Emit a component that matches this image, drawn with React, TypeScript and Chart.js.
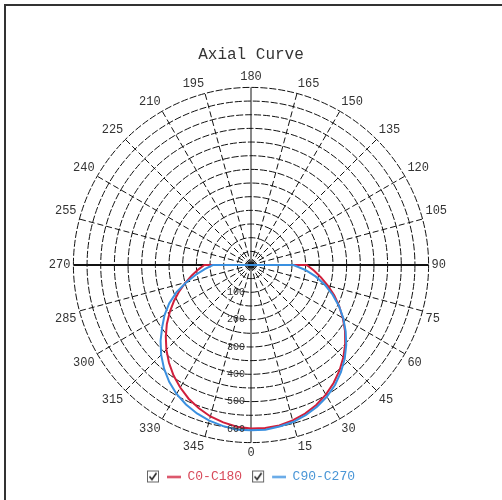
import React, { useEffect, useRef } from "react";
import { Chart, registerables } from "chart.js";

Chart.register(...registerables);

// Angles (degrees) at which the intensity curves are sampled
const ANGLES = [
  0, 5, 10, 15, 20, 25, 30, 35, 40, 45, 50, 55, 60, 65, 70, 75, 80, 85, 90,
  95, 100, 105, 110, 115, 120, 125, 130, 135, 140, 145, 150, 155, 160, 165, 170, 175, 180,
  185, 190, 195, 200, 205, 210, 215, 220, 225, 230, 235, 240, 245, 250, 255, 260, 265,
  270, 275, 280, 285, 290, 295, 300, 305, 310, 315, 320, 325, 330, 335, 340, 345, 350, 355,
];

// C0-C180 plane intensity (cd) at each angle above
const C0_C180 = [
  598, 599, 596, 589, 579, 565, 548, 527, 504, 478, 450, 420, 388, 356, 324, 291, 260, 231, 204,
  0, 0, 0, 0, 0, 0, 0, 0, 0, 0, 0, 0, 0, 0, 0, 0, 0, 0,
  0, 0, 0, 0, 0, 0, 0, 0, 0, 0, 0, 0, 0, 0, 0, 0, 0,
  171, 194, 220, 248, 279, 311, 343, 376, 407, 438, 467, 494, 518, 540, 558, 574, 585, 594,
];

// C90-C270 plane intensity (cd) at each angle above
const C90_C270 = [
  605, 605, 600, 595, 585, 572, 556, 536, 512, 485, 455, 423, 390, 355, 318, 280, 240, 198, 155,
  0, 0, 0, 0, 0, 0, 0, 0, 0, 0, 0, 0, 0, 0, 0, 0, 0, 0,
  0, 0, 0, 0, 0, 0, 0, 0, 0, 0, 0, 0, 0, 0, 0, 0, 0,
  140, 170, 205, 245, 290, 330, 365, 397, 432, 465, 495, 522, 545, 563, 578, 590, 598, 605,
];

const SERIES_NAMES = ["C0-C180", "C90-C270"];
const RADIAL_TICK_LABELS = [100, 200, 300, 400, 500, 600];
const R_MIN = 0;
const R_MAX = 650;
const R_STEP = 50;
const ANGLE_STEP = 5;
const SPOKE_STEP = 15;

const LINE_COLORS = ["#d0203c", "#3a90e0"];
const TEXT_COLORS = ["#d84a5a", "#4a96d6"];

function makeLegendIcon(color: string): HTMLCanvasElement {
  const c = document.createElement("canvas");
  c.width = 34;
  c.height = 14;
  const g = c.getContext("2d")!;
  g.fillStyle = "#fff";
  g.fillRect(0.5, 1.5, 11, 11);
  g.strokeStyle = "#666";
  g.lineWidth = 1;
  g.strokeRect(0.5, 1.5, 11, 11);
  g.strokeStyle = "#222";
  g.lineWidth = 1.6;
  g.beginPath();
  g.moveTo(2.5, 7);
  g.lineTo(5, 10);
  g.lineTo(9.5, 3.5);
  g.stroke();
  g.strokeStyle = color;
  g.lineWidth = 2;
  g.beginPath();
  g.moveTo(20, 7.5);
  g.lineTo(34, 7.5);
  g.stroke();
  return c;
}

const radialTickPlugin = {
  id: "radialTickLabels",
  afterDatasetsDraw(chart: any) {
    const s = chart.scales.r;
    const ctx = chart.ctx;
    ctx.save();
    ctx.font = "10px 'Liberation Mono'";
    ctx.fillStyle = "#333";
    ctx.textAlign = "right";
    ctx.textBaseline = "middle";
    RADIAL_TICK_LABELS.forEach((v) => {
      const d = s.getDistanceFromCenterForValue(v);
      ctx.fillText(String(v), s.xCenter - 6, s.yCenter + d);
    });
    ctx.restore();
  },
};

export default function App() {
  const ref = useRef<HTMLCanvasElement>(null);

  useEffect(() => {
    // chart labels run clockwise from the bottom: 0, 355, 350, ... 5
    const order = ANGLES.map((_, i) => (360 - i * ANGLE_STEP) % 360);
    const labels = order.map((a) => String(a));
    const pick = (arr: number[]) => order.map((a) => arr[ANGLES.indexOf(a)]);
    const icons = LINE_COLORS.map((c) => makeLegendIcon(c));
    const angleOf = (c: any) => order[c.index];

    const chart = new Chart(ref.current!, {
      type: "radar",
      data: {
        labels,
        datasets: [
          {
            label: SERIES_NAMES[0],
            data: pick(C0_C180),
            borderColor: LINE_COLORS[0],
            backgroundColor: "transparent",
            borderWidth: 2,
            fill: false,
            pointRadius: 0,
            tension: 0,
            order: 1,
          },
          {
            label: SERIES_NAMES[1],
            data: pick(C90_C270),
            borderColor: LINE_COLORS[1],
            backgroundColor: "transparent",
            borderWidth: 2,
            fill: false,
            pointRadius: 0,
            tension: 0,
            order: 0,
          },
        ],
      },
      options: {
        responsive: false,
        animation: false,
        devicePixelRatio: 1,
        layout: { padding: { top: 45.4, bottom: 7, left: 0, right: 0 } },
        plugins: {
          title: {
            display: true,
            text: "Axial Curve",
            color: "#333",
            font: { family: "'Liberation Mono'", size: 16, weight: "normal" },
            padding: { top: 0, bottom: 5.4 },
          },
          legend: {
            position: "bottom",
            labels: {
              usePointStyle: true,
              pointStyleWidth: 34,
              boxHeight: 13,
              padding: 10,
              font: { family: "'Liberation Mono'", size: 13 },
              generateLabels: (ch: any) =>
                ch.data.datasets.map((ds: any, i: number) => ({
                  text: ds.label,
                  fillStyle: LINE_COLORS[i],
                  strokeStyle: LINE_COLORS[i],
                  lineWidth: 0,
                  hidden: false,
                  datasetIndex: i,
                  pointStyle: icons[i],
                  fontColor: TEXT_COLORS[i],
                })),
            },
          },
          tooltip: { enabled: false },
        },
        scales: {
          r: {
            min: R_MIN,
            max: R_MAX,
            startAngle: 180,
            ticks: { display: false, stepSize: R_STEP },
            grid: { circular: true, color: "#111", lineWidth: 1 },
            border: { dash: [7, 2] },
            angleLines: {
              display: true,
              color: (c: any) => (angleOf(c) % SPOKE_STEP === 0 ? "#111" : "rgba(0,0,0,0)"),
              lineWidth: (c: any) => {
                const a = angleOf(c);
                if (a % SPOKE_STEP !== 0) return 0;
                return a === 90 || a === 270 ? 2 : 1;
              },
              borderDash: (c: any) => (angleOf(c) % 90 === 0 ? [] : [6, 3]),
            },
            pointLabels: {
              display: true,
              padding: 3,
              color: "#333",
              font: { family: "'Liberation Mono'", size: 12 },
              callback: (label: string) => (Number(label) % SPOKE_STEP === 0 ? label : ""),
            },
          },
        },
      } as any,
      plugins: [radialTickPlugin],
    });
    return () => chart.destroy();
  }, []);

  return (
    <div style={{ position: "fixed", left: 0, top: 0, width: 502, height: 500, background: "#fff" }}>
      <canvas
        ref={ref}
        width={502}
        height={500}
        style={{ position: "absolute", left: 0, top: 0, width: 502, height: 500 }}
      />
      <div
        style={{
          position: "absolute",
          left: 4,
          top: 4,
          width: 498,
          height: 496,
          boxSizing: "border-box",
          borderTop: "2px solid #333",
          borderLeft: "2px solid #333",
          pointerEvents: "none",
        }}
      />
    </div>
  );
}
